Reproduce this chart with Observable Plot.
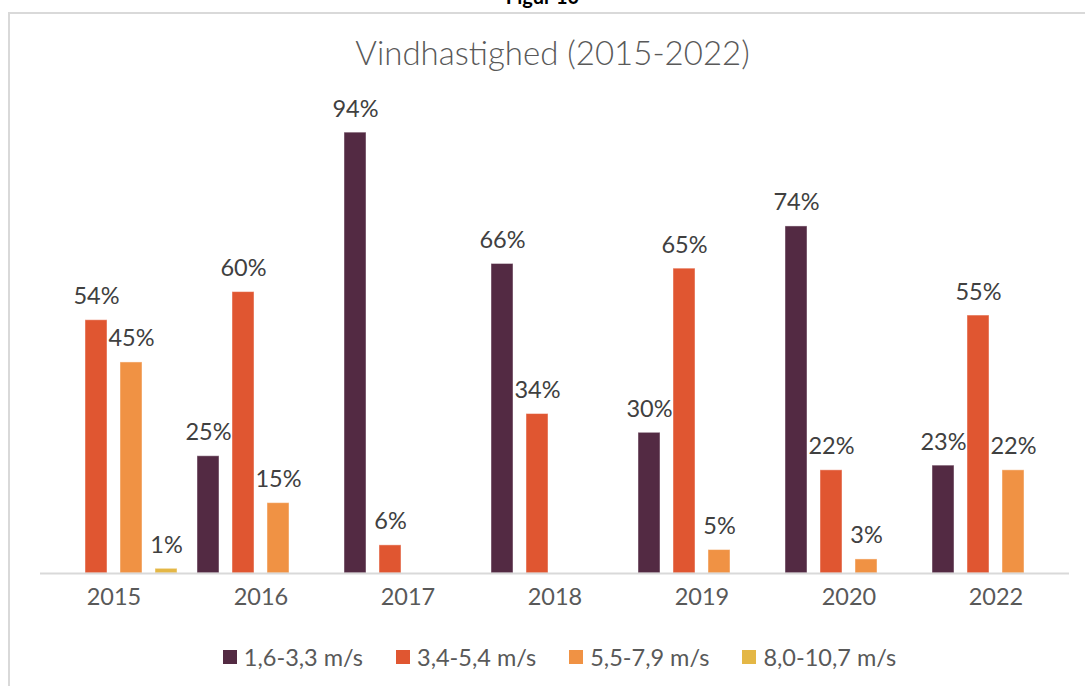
<!DOCTYPE html>
<html>
<head>
<meta charset="utf-8">
<script src="https://cdn.jsdelivr.net/npm/d3@7"></script>
<script src="https://cdn.jsdelivr.net/npm/@observablehq/plot@0.6"></script>
<style>
  html, body { margin: 0; padding: 0; background: #fff; }
  body { width: 1085px; height: 686px; overflow: hidden; position: relative; font-family: Lato, "Open Sans", sans-serif; }
  #frame { position: absolute; left: 8px; top: 12px; width: 1100px; height: 700px; border: 2px solid #d9d9d9; box-sizing: border-box; }
  #fig { position: absolute; left: 0; width: 1085px; top: -14px; text-align: center; font-weight: 700; font-size: 20px; line-height: 20px; color: #000; }
  #title { position: absolute; left: 10px; width: 1085px; top: 32px; text-align: center; font-size: 33px; font-weight: 300; color: #595959; line-height: 40px; }
  #chart { position: absolute; left: 0; top: 80px; }
  #legend { position: absolute; left: 17px; width: 1085px; top: 644px; display: flex; justify-content: center; font-size: 23.5px; font-weight: 400; color: #595959; line-height: 26px; }
  .item { display: flex; align-items: center; margin: 0 16.5px; }
  .sw { width: 14px; height: 14px; margin-right: 7px; }
</style>
</head>
<body>
<div id="frame"></div>
<div id="fig">Figur 10</div>
<div id="title">Vindhastighed (2015-2022)</div>
<div id="chart"></div>
<div id="legend"></div>
<script>
const years = ["2015", "2016", "2017", "2018", "2019", "2020", "2022"];
const series = ["1,6-3,3 m/s", "3,4-5,4 m/s", "5,5-7,9 m/s", "8,0-10,7 m/s"];
const colors = ["#532a43", "#e05631", "#f09244", "#e4b745"];
const s1 = [null, 25, 94, 66, 30, 74, 23];
const s2 = [54, 60, 6, 34, 65, 22, 55];
const s3 = [45, 15, null, null, 5, 3, 22];
const s4 = [1, null, null, null, null, null, null];

const allSeries = [s1, s2, s3, s4];
const data = [];
years.forEach((yr, i) => {
  allSeries.forEach((s, j) => {
    if (s[i] != null) data.push({year: yr, series: series[j], value: s[i]});
  });
});

const chart = Plot.plot({
  width: 1085,
  height: 540,
  marginLeft: 38,
  marginRight: 15,
  marginTop: 24,
  marginBottom: 47,
  style: {fontFamily: "Lato, 'Open Sans', sans-serif", fontSize: "23.5px", fontWeight: 400, color: "#595959", background: "transparent"},
  fx: {domain: years, padding: 0, label: null},
  x: {domain: series, axis: null, paddingInner: 0.36, paddingOuter: 0.23},
  y: {domain: [0, 100], axis: null},
  color: {domain: series, range: colors},
  marks: [
    Plot.axisFx({anchor: "bottom", tickSize: 0, tickPadding: 15, label: null, fontSize: 23.5, fill: "#595959"}),
    Plot.barY(data, {fx: "year", x: "series", y: "value", fill: "series", stroke: "#fff", strokeOpacity: 0.45, strokeWidth: 1}),
    Plot.text(data, {fx: "year", x: "series", y: "value", text: d => d.value + "%", dy: -16, lineAnchor: "bottom", fill: "#404040", fontSize: 23.5}),
    Plot.ruleY([0], {stroke: "#d9d9d9", strokeWidth: 2})
  ]
});
document.getElementById("chart").appendChild(chart);

const leg = document.getElementById("legend");
series.forEach((s, i) => {
  const it = document.createElement("div");
  it.className = "item";
  const sw = document.createElement("div");
  sw.className = "sw";
  sw.style.background = colors[i];
  const t = document.createElement("span");
  t.textContent = s;
  it.appendChild(sw);
  it.appendChild(t);
  leg.appendChild(it);
});
</script>
</body>
</html>
